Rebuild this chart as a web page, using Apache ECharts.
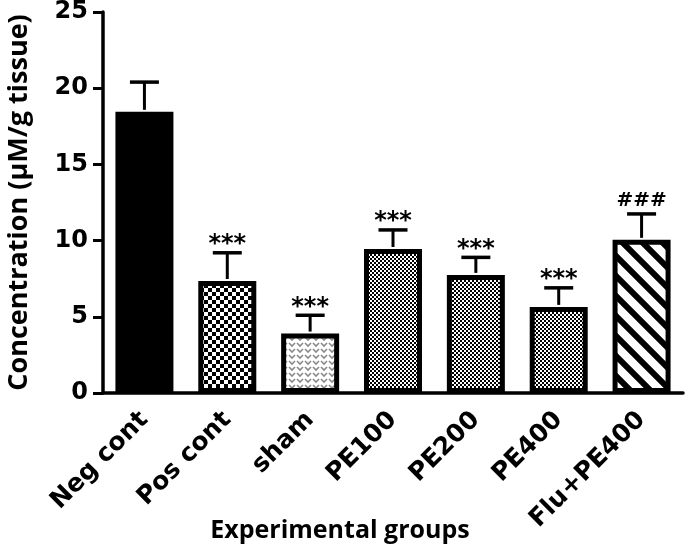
<!DOCTYPE html>
<html>
<head>
<meta charset="utf-8">
<script src="https://cdn.jsdelivr.net/npm/echarts@6/dist/echarts.min.js"></script>
<style>html,body{margin:0;padding:0;background:#fff}#c{width:685px;height:549px}</style>
</head>
<body>
<div id="c"></div>
<script>
const categories = ['Neg cont', 'Pos cont', 'sham', 'PE100', 'PE200', 'PE400', 'Flu+PE400'];
const means = [18.45, 7.35, 3.9, 9.45, 7.75, 5.65, 10.05];
const sds = [1.95, 1.85, 1.2, 1.25, 1.15, 1.25, 1.7];
const marks = ['', '***', '***', '***', '***', '***', '###'];
const yTicks = [0, 5, 10, 15, 20, 25];
const xAxisTitle = 'Experimental groups';
const yAxisTitle = 'Concentration (\u00b5M/g tissue)';

function makePattern(w, h, draw) {
  const c = document.createElement('canvas');
  c.width = w; c.height = h;
  const ctx = c.getContext('2d');
  ctx.fillStyle = '#fff';
  ctx.fillRect(0, 0, w, h);
  draw(ctx);
  return { image: c, repeat: 'repeat' };
}
const patSolid = '#000';
const patChecker = makePattern(8, 8, ctx => {
  ctx.fillStyle = '#000';
  ctx.fillRect(0, 0, 4, 4);
  ctx.fillRect(4, 4, 4, 4);
});
const patV = makePattern(8, 6, ctx => {
  ctx.strokeStyle = '#8a8a8a';
  ctx.lineWidth = 1.6;
  ctx.beginPath();
  ctx.moveTo(1, 1); ctx.lineTo(4, 4); ctx.lineTo(7, 1);
  ctx.stroke();
});
const patDots = makePattern(4, 4, ctx => {
  ctx.fillStyle = '#000';
  ctx.fillRect(0, 0, 2, 2);
  ctx.fillRect(2, 2, 2, 2);
});
const patStripes = makePattern(20, 20, ctx => {
  ctx.strokeStyle = '#000';
  ctx.lineWidth = 6;
  ctx.beginPath();
  ctx.moveTo(-5, -5); ctx.lineTo(25, 25);
  ctx.moveTo(-25, -5); ctx.lineTo(5, 25);
  ctx.moveTo(15, -5); ctx.lineTo(45, 25);
  ctx.stroke();
});
const fills = [patSolid, patChecker, patV, patDots, patDots, patDots, patStripes];

const chart = echarts.init(document.getElementById('c'), null, { renderer: 'canvas' });
chart.setOption({
  animation: false,
  backgroundColor: '#fff',
  grid: { left: 103, right: 2, top: 12, bottom: 156, containLabel: false, outerBoundsMode: 'none' },
  graphic: [{
    type: 'text',
    x: 340, y: 531,
    style: {
      text: xAxisTitle, align: 'center', verticalAlign: 'middle',
      font: 'bold 25px "Open Sans"', fill: '#000'
    }
  }],
  xAxis: {
    type: 'category',
    data: categories,
    boundaryGap: true,
    axisLine: { lineStyle: { color: '#000', width: 3.5 } },
    axisTick: { alignWithLabel: true, length: 9, lineStyle: { color: '#000', width: 3 } },
    axisLabel: {
      rotate: 45, margin: 23, color: '#000',
      fontFamily: 'DejaVu Sans', fontWeight: 'bold', fontSize: 25, interval: 0
    }
  },
  yAxis: {
    type: 'value',
    min: yTicks[0], max: yTicks[yTicks.length - 1], interval: 5,
    axisLine: { show: true, lineStyle: { color: '#000', width: 3.5 } },
    axisTick: { show: true, length: 10, lineStyle: { color: '#000', width: 3 } },
    splitLine: { show: false },
    axisLabel: {
      margin: 15, color: '#000',
      fontFamily: 'DejaVu Sans', fontWeight: 'bold', fontSize: 24
    },
    name: yAxisTitle,
    nameLocation: 'middle',
    nameGap: 70,
    nameTextStyle: { color: '#000', fontFamily: 'Open Sans', fontWeight: 'bold', fontSize: 27 }
  },
  series: [
    {
      type: 'bar',
      barWidth: 58,
      data: means.map((v, i) => ({
        value: v,
        itemStyle: { color: fills[i], borderColor: '#000', borderWidth: 5 }
      })),
      z: 2
    },
    {
      type: 'custom',
      z: 3,
      data: means.map((v, i) => [i, v, v + sds[i]]),
      renderItem: function (params, api) {
        const i = api.value(0);
        const top = api.coord([i, api.value(1)]);
        const hi = api.coord([i, api.value(2)]);
        const children = [
          { type: 'line', shape: { x1: top[0], y1: top[1] - 2, x2: hi[0], y2: hi[1] }, style: { stroke: '#000', lineWidth: 3 } },
          { type: 'line', shape: { x1: hi[0] - 14.5, y1: hi[1], x2: hi[0] + 14.5, y2: hi[1] }, style: { stroke: '#000', lineWidth: 3.5 } }
        ];
        const m = marks[i];
        if (m) {
          const isHash = m.indexOf('#') >= 0;
          children.push({
            type: 'text',
            style: {
              text: m, x: hi[0], y: isHash ? hi[1] - 13 : hi[1] - 8,
              align: 'center', verticalAlign: 'middle',
              font: isHash ? 'bold 20px "DejaVu Sans"' : 'bold 24px "DejaVu Sans"',
              fill: '#000'
            }
          });
        }
        return { type: 'group', children: children };
      }
    }
  ]
});
</script>
</body>
</html>
